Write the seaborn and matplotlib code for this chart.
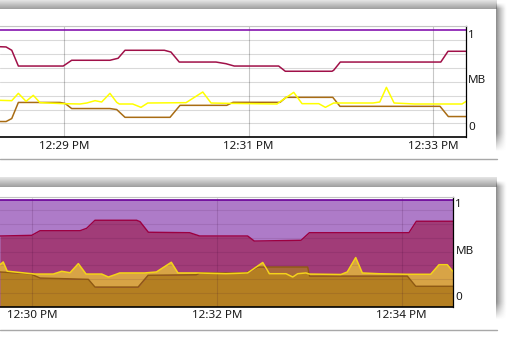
import numpy as np
import matplotlib
matplotlib.use("Agg")
import matplotlib.pyplot as plt
import seaborn as sns

sns.set_theme(style="white")
plt.rcParams['font.family'] = ['Noto Sans', 'DejaVu Sans']

# ---------------- data (time = seconds after 12:28:00, values in MB) -------------
top_tick_t = [60, 180, 300]
top_tick_labels = ["12:29 PM", "12:31 PM", "12:33 PM"]
bot_tick_t = [120, 240, 360]
bot_tick_labels = ["12:30 PM", "12:32 PM", "12:34 PM"]

top_purple_t = [18.2, 321.4]
top_purple_v = [0.967, 0.967]
top_red_t = [18.2, 22.1, 25.8, 30.1, 59.3, 64.8, 89.7, 95.0, 99.5, 125.1, 129.4, 134.8,
             158.7, 165.2, 170.6, 199.5, 203.8, 234.2, 235.3, 239.6, 305.0, 309.7, 321.4]
top_red_v = [0.816, 0.814, 0.784, 0.642, 0.642, 0.694, 0.694, 0.712, 0.784, 0.784, 0.768, 0.678,
             0.678, 0.663, 0.642, 0.642, 0.595, 0.595, 0.604, 0.678, 0.678, 0.775, 0.775]
top_brown_t = [18.2, 22.1, 25.8, 30.1, 57.2, 60.5, 64.8, 89.7, 94.1, 99.5, 128.8, 135.3,
               165.7, 169.8, 200.4, 204.3, 234.7, 239.4, 304.5, 309.9, 321.4]
top_brown_v = [0.142, 0.142, 0.169, 0.314, 0.314, 0.305, 0.259, 0.259, 0.250, 0.180, 0.180, 0.288,
               0.288, 0.315, 0.315, 0.360, 0.360, 0.279, 0.279, 0.187, 0.187]
top_yellow_t = [18.2, 25.8, 30.1, 35.1, 39.8, 44.2, 59.4, 70.2, 74.6, 80.0, 84.3, 89.7,
                94.1, 95.8, 104.5, 109.9, 114.3, 139.2, 150.1, 155.5, 166.3, 198.4, 201.7,
                209.3, 214.7, 225.6, 229.9, 235.3, 260.9, 265.3, 269.6, 274.6, 288.0, 318.8, 321.4]
top_yellow_v = [0.333, 0.330, 0.396, 0.324, 0.378, 0.312, 0.303, 0.300, 0.309, 0.330, 0.318, 0.396,
                0.315, 0.300, 0.300, 0.270, 0.309, 0.312, 0.408, 0.309, 0.306, 0.300, 0.333,
                0.405, 0.303, 0.303, 0.270, 0.309, 0.309, 0.318, 0.450, 0.309, 0.300, 0.300, 0.323]

bot_purple_t = [99.0, 393.5]
bot_purple_v = [0.965, 0.965]
bot_red_t = [99.0, 119.6, 125.0, 151.0, 155.3, 160.7, 187.8, 190.0, 195.4, 222.2, 228.7, 259.9,
             264.2, 294.6, 300.0, 364.7, 369.5, 393.5]
bot_red_v = [0.641, 0.647, 0.689, 0.689, 0.711, 0.784, 0.784, 0.771, 0.675, 0.671, 0.641, 0.641,
             0.595, 0.602, 0.671, 0.671, 0.775, 0.775]
bot_brown_t = [99.0, 118.5, 125.0, 156.4, 160.7, 188.7, 195.2, 226.5, 228.7, 258.8, 266.4, 298.9,
               300.1, 363.6, 369.1, 393.5]
bot_brown_v = [0.314, 0.298, 0.259, 0.247, 0.177, 0.177, 0.284, 0.289, 0.305, 0.305, 0.359, 0.359,
               0.277, 0.277, 0.184, 0.184]
bot_yellow_t = [99.0, 101.1, 103.7, 121.7, 133.6, 139.1, 144.5, 149.9, 154.9, 165.1, 169.4, 173.7,
                176.8, 193.0, 200.6, 210.3, 214.6, 226.5, 245.8, 259.9, 269.7, 274.0, 284.8, 289.2,
                292.4, 297.8, 299.9, 320.5, 324.6, 330.1, 334.4, 345.2, 362.6, 378.8, 384.2, 389.6, 393.5]
bot_yellow_v = [0.380, 0.405, 0.321, 0.295, 0.295, 0.320, 0.307, 0.390, 0.295, 0.295, 0.268, 0.289,
                0.305, 0.305, 0.314, 0.402, 0.305, 0.305, 0.298, 0.305, 0.400, 0.298, 0.298, 0.268,
                0.298, 0.305, 0.295, 0.291, 0.314, 0.445, 0.305, 0.298, 0.293, 0.293, 0.380, 0.380, 0.314]

# ---------------- figure -------------------------------------------------------
W, H = 509, 346
fig = plt.figure(figsize=(W / 100, H / 100), dpi=100, facecolor="white")

# background decorations in pixel coordinates
bg = fig.add_axes([0, 0, 1, 1], zorder=-10)
bg.set_xlim(0, W)
bg.set_ylim(H, 0)
bg.axis("off")


def band(y0, y1):
    g = np.linspace(0.90, 0.62, 30)[:, None]
    bg.imshow(g, cmap="gray", vmin=0, vmax=1, extent=(0, 497, y1, y0), aspect="auto",
              interpolation="bilinear")


def shadow(y0, y1):
    nx, ny = 20, 80
    u = np.linspace(0, 1, nx)[None, :]
    v = np.linspace(0, 1, ny)[:, None]
    alpha = (1 - u) ** 1.3 * np.clip((1 - v) / 0.12, 0, 1) * np.clip(v / 0.04, 0, 1)
    img = np.zeros((ny, nx, 4))
    img[..., :3] = 0.40
    img[..., 3] = 0.75 * alpha
    bg.imshow(img, extent=(496, 507, y1, y0), aspect="auto", interpolation="bilinear")


band(0, 9)
shadow(2, 152)
band(177, 187)
shadow(180, 320)
bg.plot([0, 497], [158.5, 158.5], color="#a8a8a8", lw=1.0)
bg.plot([0, 497], [329.5, 329.5], color="#a8a8a8", lw=1.0)


def setup_axes(ax, tick_t, tick_labels, xlim, gcolor, galpha_y, galpha_x):
    ax.set_xlim(*xlim)
    ax.set_ylim(0, 1)
    ax.set_yticks(np.arange(0, 1.001, 0.125))
    ax.set_yticklabels([])
    ax.set_xticks(tick_t)
    ax.set_xticklabels(tick_labels, fontsize=8.4, color="#1a1a1a")
    ax.tick_params(axis="x", length=0, pad=2.5)
    ax.tick_params(axis="y", length=0)
    ax.set_axisbelow("line")
    ax.grid(True, axis="y", color=gcolor, alpha=galpha_y, lw=0.8)
    ax.grid(True, axis="x", color=gcolor, alpha=galpha_x, lw=0.8)
    ax.set_xlabel("")
    ax.set_ylabel("")
    ax.spines["left"].set_visible(False)
    ax.spines["top"].set_color("#c4c4c4")
    ax.spines["top"].set_linewidth(0.8)
    ax.spines["bottom"].set_color("black")
    ax.spines["bottom"].set_linewidth(1.2)
    ax.spines["right"].set_color("black")
    ax.spines["right"].set_linewidth(0.9)


def line(ax, t, v, color, lw=1.1):
    sns.lineplot(x=t, y=v, color=color, lw=lw, ax=ax, estimator=None, sort=True)


# ---------------- top chart (lines) -------------------------------------------------
ax1 = fig.add_axes([0, (H - 137.3) / H, 466 / W, 111 / H], facecolor="white")
line(ax1, top_purple_t, top_purple_v, "#7a00a8")
line(ax1, top_red_t, top_red_v, "#a01048")
line(ax1, top_brown_t, top_brown_v, "#a86c14")
line(ax1, top_yellow_t, top_yellow_v, "#ffff00")
setup_axes(ax1, top_tick_t, top_tick_labels, (18.15, 321.4), "black", 0.15, 0.22)

# ---------------- bottom chart (areas) ---------------------------------------------
ax2 = fig.add_axes([0, (H - 306.5) / H, 453.3 / W, 110 / H], facecolor="white")
ax2.fill_between(bot_purple_t, 0, bot_purple_v, color="#ae7bc8", lw=0)
ax2.fill_between(bot_red_t, 0, bot_red_v, color="#a13c78", lw=0)
grid_t = np.union1d(bot_yellow_t, bot_brown_t)
yi = np.interp(grid_t, bot_yellow_t, bot_yellow_v)
bi = np.interp(grid_t, bot_brown_t, bot_brown_v)
ax2.fill_between(grid_t, 0, np.minimum(yi, bi), color="#b47f22", lw=0)
ax2.fill_between(grid_t, bi, yi, where=yi >= bi, interpolate=True, color="#d8a446", lw=0)
ax2.fill_between(grid_t, yi, bi, where=bi > yi, interpolate=True, color="#a8683a", lw=0)
line(ax2, bot_purple_t, bot_purple_v, "#6a0098", lw=1.2)
line(ax2, bot_red_t, bot_red_v, "#9c0040", lw=1.0)
line(ax2, bot_brown_t, bot_brown_v, "#8e5a12", lw=1.0)
line(ax2, bot_yellow_t, bot_yellow_v, "#f4d418", lw=1.1)
setup_axes(ax2, bot_tick_t, bot_tick_labels, (99.0, 393.5), "#300030", 0.10, 0.14)


def label(x, y, s):
    fig.text(x / W, 1 - y / H, s, ha="left", va="center", fontsize=8.4, color="#1a1a1a")


label(468, 35, "1")
label(468, 80.5, "MB")
label(468, 128, "0")
label(455.5, 205, "1")
label(455.5, 251, "MB")
label(455.5, 297.5, "0")

fig.savefig("out.png", dpi=100, facecolor="white")
